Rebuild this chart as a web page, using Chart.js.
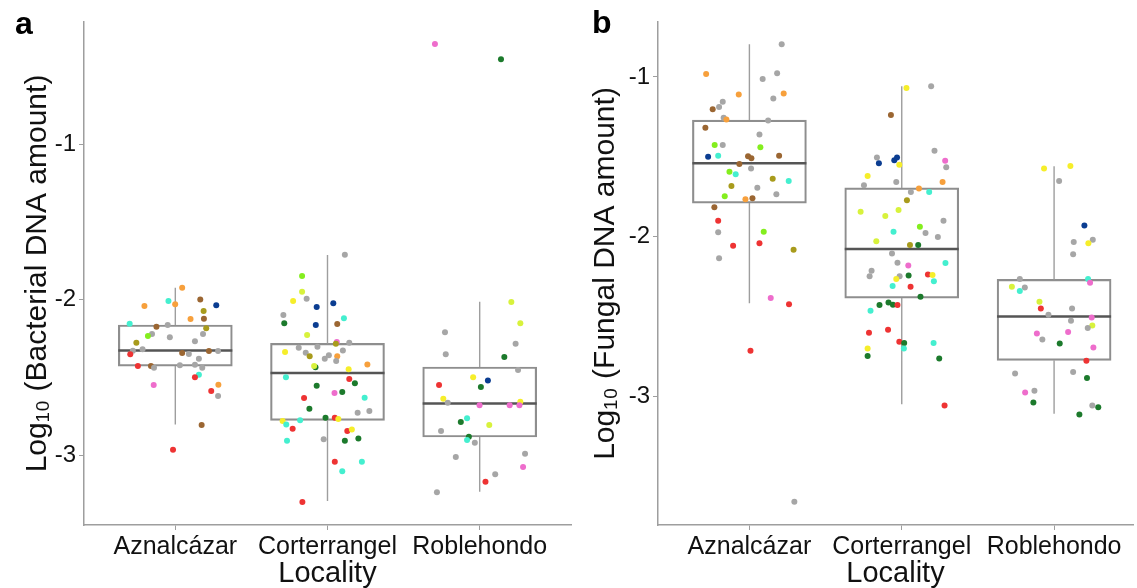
<!DOCTYPE html>
<html>
<head>
<meta charset="utf-8">
<script src="https://cdn.jsdelivr.net/npm/chart.js@4.4.0/dist/chart.umd.min.js"></script>
<style>
  body { margin: 0; background: #fff; width: 1137px; height: 588px; position: relative; overflow: hidden;
         font-family: "Liberation Sans", Arial, sans-serif; }
  canvas { position: absolute; top: 0; }
  #chartA { left: 0; }
  #chartB { left: 575px; }
  .tag { position: absolute; font-weight: bold; font-size: 32px; line-height: 1; color: #000; }
</style>
</head>
<body>
<canvas id="chartA" width="575" height="588"></canvas>
<canvas id="chartB" width="562" height="588"></canvas>
<div class="tag" style="left:15px; top:7px">a</div>
<div class="tag" style="left:592px; top:6px">b</div>
<script>
const localities = ['Aznalcázar', 'Corterrangel', 'Roblehondo'];
const yTicks = [-3, -2, -1];

// box stats, panel a (bacterial)
const bactQ1 = [-2.428, -2.777, -2.884];
const bactMed = [-2.327, -2.473, -2.668];
const bactQ3 = [-2.164, -2.282, -2.434];
const bactLow = [-2.803, -3.296, -3.236];
const bactHigh = [-1.924, -1.714, -2.014];

// box stats, panel b (fungal)
const fungQ1 = [-1.79, -2.385, -2.775];
const fungMed = [-1.54, -2.078, -2.50];
const fungQ3 = [-1.27, -1.695, -2.268];
const fungLow = [-2.417, -3.05, -3.11];
const fungHigh = [-0.796, -1.058, -1.56];

const palette = {
  gray: '#a6a6a6', orange: '#f7a03c', brown: '#9b6632', navy: '#0b3d91',
  olive: '#a89b1c', cyan: '#44efcf', lime: '#84ee1e', ygreen: '#d8f23c',
  yellow: '#f6ee2a', red: '#ee3333', pink: '#ee6dcc', dgreen: '#1c7a2c'
};

// jittered points, panel a: Aznalcázar, Corterrangel, Roblehondo
const bactX = [
  1.045,0.797,0.955,0.999,1.164,1.269,1.186,1.100,1.188,0.700,0.876,0.950,1.203,0.847,0.820,0.964,1.182,1.129,0.744,0.721,0.785,0.704,1.045,1.089,1.221,1.281,1.155,0.754,0.840,0.860,1.030,1.129,1.177,1.155,1.129,0.858,1.283,1.236,1.281,1.173,0.985,
  2.114,1.833,1.833,1.774,1.863,1.929,2.038,1.710,1.716,1.923,2.064,2.108,1.866,2.061,2.055,2.143,1.811,1.934,1.721,1.857,1.883,2.101,1.982,2.009,2.064,2.057,1.921,1.912,2.139,2.262,1.727,2.143,2.180,1.929,2.046,2.097,1.846,2.244,1.881,2.198,2.275,1.987,2.048,2.071,1.705,1.729,1.820,1.771,2.130,2.160,1.975,2.114,2.203,1.734,2.048,2.226,2.097,1.835,
  3.208,3.267,2.772,3.236,2.777,3.162,3.252,2.957,3.054,2.733,3.008,2.761,2.790,3.267,2.999,3.197,3.261,2.917,2.876,3.063,2.746,2.929,2.917,2.968,3.298,2.843,3.285,3.102,3.038,2.719,2.706,3.140
];
const bactY = [
  -1.924,-2.042,-2.010,-2.031,-1.999,-2.037,-2.074,-2.125,-2.123,-2.156,-2.175,-2.164,-2.185,-2.222,-2.235,-2.243,-2.222,-2.269,-2.278,-2.329,-2.320,-2.352,-2.344,-2.350,-2.331,-2.331,-2.381,-2.428,-2.428,-2.439,-2.423,-2.419,-2.439,-2.484,-2.500,-2.550,-2.548,-2.588,-2.621,-2.807,-2.966,
  -1.712,-1.849,-1.950,-2.010,-1.995,-2.048,-2.024,-2.100,-2.153,-2.164,-2.158,-2.121,-2.228,-2.273,-2.284,-2.278,-2.310,-2.304,-2.338,-2.342,-2.365,-2.327,-2.381,-2.359,-2.365,-2.395,-2.436,-2.428,-2.449,-2.417,-2.500,-2.511,-2.539,-2.554,-2.601,-2.595,-2.633,-2.632,-2.702,-2.728,-2.717,-2.760,-2.760,-2.768,-2.781,-2.803,-2.777,-2.831,-2.846,-2.835,-2.899,-2.908,-2.893,-2.908,-3.043,-3.043,-3.105,-3.302,
  -2.016,-2.153,-2.211,-2.284,-2.352,-2.370,-2.453,-2.500,-2.520,-2.550,-2.563,-2.638,-2.664,-2.657,-2.680,-2.680,-2.680,-2.764,-2.788,-2.807,-2.846,-2.882,-2.904,-2.921,-2.992,-3.013,-3.077,-3.124,-3.172,-3.240,-0.357,-0.455
];
const bactCol = [
  'orange','orange','cyan','orange','brown','navy','olive','orange','brown','cyan','brown','gray','olive','gray','lime','gray','gray','gray','olive','gray','gray','red','brown','gray','brown','gray','gray','red','brown','gray','gray','gray','gray','cyan','red','pink','orange','red','gray','brown','red',
  'gray','lime','ygreen','yellow','gray','navy','navy','gray','dgreen','navy','brown','cyan','ygreen','pink','olive','gray','gray','gray','yellow','gray','olive','gray','gray','gray','orange','gray','dgreen','ygreen','yellow','orange','cyan','red','dgreen','dgreen','pink','dgreen','red','cyan','dgreen','gray','gray','dgreen','red','yellow','yellow','cyan','cyan','red','red','yellow','gray','dgreen','dgreen','cyan','red','cyan','cyan','red',
  'ygreen','ygreen','gray','gray','gray','dgreen','gray','yellow','navy','red','dgreen','yellow','gray','yellow','pink','pink','pink','cyan','dgreen','ygreen','gray','dgreen','cyan','gray','gray','gray','pink','gray','red','gray','pink','dgreen'
];

// jittered points, panel b
const fungX = [
  1.212,0.716,1.182,1.087,0.930,1.225,1.157,0.825,0.801,0.759,0.831,0.849,1.123,0.711,1.066,0.772,0.825,1.072,0.729,0.795,0.991,1.013,1.195,0.934,1.011,0.869,0.910,1.153,1.258,0.882,1.052,1.177,0.838,0.974,1.020,0.770,0.795,0.795,1.094,0.893,1.066,1.290,0.801,1.140,1.260,1.007,1.295,
  2.031,2.193,1.929,2.215,1.837,1.850,1.951,1.969,1.984,2.285,2.292,1.776,1.964,1.752,2.268,2.113,2.060,2.180,2.034,1.730,1.892,1.979,2.274,2.119,1.946,2.156,2.237,1.833,2.054,2.108,1.936,1.972,2.043,2.287,1.802,1.789,1.986,2.045,2.172,2.202,1.964,2.211,1.940,2.058,2.123,1.854,1.913,1.942,1.972,1.795,1.785,1.910,1.984,2.016,2.014,2.209,1.776,1.776,2.246,2.281,
  2.934,3.107,3.033,3.199,3.129,3.254,3.225,3.125,2.775,3.223,3.236,2.723,2.808,2.775,2.904,2.913,3.118,2.963,3.247,3.111,3.251,3.221,2.887,3.092,2.923,3.037,3.258,3.212,2.744,3.125,3.216,2.810,2.871,2.864,3.251,3.290,3.166
];
const fungY = [
  -0.796,-0.981,-0.977,-1.013,-1.110,-1.104,-1.135,-1.156,-1.188,-1.202,-1.256,-1.266,-1.273,-1.319,-1.360,-1.427,-1.427,-1.441,-1.500,-1.494,-1.496,-1.510,-1.494,-1.546,-1.573,-1.594,-1.610,-1.638,-1.652,-1.683,-1.694,-1.735,-1.748,-1.766,-1.760,-1.816,-1.900,-1.973,-1.969,-2.058,-2.041,-2.083,-2.135,-2.385,-2.423,-2.714,-3.660,
  -1.069,-1.058,-1.238,-1.463,-1.504,-1.541,-1.521,-1.504,-1.550,-1.525,-1.566,-1.621,-1.658,-1.679,-1.658,-1.698,-1.721,-1.721,-1.773,-1.844,-1.871,-1.833,-1.900,-1.938,-1.969,-1.977,-2.002,-2.029,-2.052,-2.052,-2.106,-2.163,-2.181,-2.166,-2.213,-2.248,-2.248,-2.244,-2.238,-2.241,-2.266,-2.279,-2.310,-2.314,-2.377,-2.429,-2.413,-2.427,-2.429,-2.464,-2.602,-2.583,-2.658,-2.666,-2.700,-2.666,-2.700,-2.748,-2.763,-3.058,
  -1.573,-1.558,-1.652,-1.931,-2.033,-2.019,-2.041,-2.110,-2.266,-2.266,-2.289,-2.314,-2.319,-2.341,-2.408,-2.450,-2.450,-2.489,-2.506,-2.527,-2.556,-2.573,-2.606,-2.598,-2.644,-2.669,-2.694,-2.777,-2.858,-2.848,-2.885,-2.977,-2.966,-3.039,-3.058,-3.069,-3.114
];
const fungCol = [
  'gray','orange','gray','gray','orange','orange','gray','gray','gray','brown','gray','orange','gray','brown','gray','lime','gray','lime','navy','cyan','brown','brown','brown','brown','gray','lime','cyan','olive','cyan','olive','gray','gray','lime','orange','brown','brown','red','gray','lime','red','red','olive','gray','pink','red','red','gray',
  'yellow','gray','brown','gray','gray','navy','navy','navy','yellow','pink','gray','yellow','gray','gray','orange','orange','gray','cyan','olive','ygreen','ygreen','ygreen','gray','lime','cyan','gray','gray','ygreen','olive','dgreen','gray','gray','pink','cyan','gray','gray','gray','dgreen','red','yellow','yellow','cyan','cyan','red','dgreen','dgreen','dgreen','dgreen','red','cyan','red','red','red','dgreen','cyan','cyan','yellow','dgreen','dgreen','red',
  'yellow','yellow','gray','navy','gray','gray','yellow','gray','gray','cyan','pink','ygreen','gray','cyan','ygreen','red','gray','gray','pink','gray','ygreen','gray','pink','pink','gray','dgreen','pink','red','gray','gray','dgreen','pink','gray','dgreen','gray','dgreen','dgreen'
];

const axisGray = '#9e9e9e';

function makePanel(id, cfg) {
  const whisker = [];
  localities.forEach((l, i) => {
    whisker.push({x: i + 1, y: cfg.high[i]}, {x: i + 1, y: cfg.q3[i]}, {x: i + 1, y: null});
    whisker.push({x: i + 1, y: cfg.q1[i]}, {x: i + 1, y: cfg.low[i]}, {x: i + 1, y: null});
  });

  new Chart(document.getElementById(id), {
    type: 'scatter',
    data: {
      datasets: [
        {
          data: cfg.xs.map((x, i) => ({x: x, y: cfg.ys[i]})),
          backgroundColor: cfg.cols.map(c => palette[c]),
          pointRadius: 3,
          borderWidth: 0,
          order: 0
        },
        {
          data: cfg.med.map((m, i) => ({x: i + 1, y: m})),
          pointStyle: 'line',
          pointRadius: 57,
          borderColor: '#555555',
          borderWidth: 2.5,
          order: 1
        },
        {
          data: whisker,
          showLine: true,
          spanGaps: false,
          pointRadius: 0,
          borderColor: axisGray,
          borderWidth: 1.4,
          order: 2
        },
        {
          type: 'bar',
          data: cfg.q1.map((q, i) => ({x: i + 1, y: [q, cfg.q3[i]]})),
          barThickness: 114,
          backgroundColor: 'rgba(255,255,255,0)',
          borderColor: '#8e8e8e',
          borderWidth: 1.5,
          borderSkipped: false,
          order: 3
        }
      ]
    },
    options: {
      responsive: false,
      animation: false,
      devicePixelRatio: 1,
      layout: { autoPadding: false, padding: { top: 22, right: 4, left: 0, bottom: 0 } },
      plugins: { legend: { display: false }, tooltip: { enabled: false } },
      scales: {
        x: {
          type: 'linear',
          min: 0.4,
          max: cfg.xMax,
          offset: false,
          afterBuildTicks: s => { s.ticks = localities.map((l, i) => ({value: i + 1})); },
          afterFit: s => { s.height = 63; },
          ticks: {
            autoSkip: false, maxRotation: 0, padding: 2,
            color: '#111', font: { family: 'Liberation Sans', size: 25 },
            callback: (v, i) => localities[i]
          },
          grid: { offset: false, drawOnChartArea: false, drawTicks: true, tickLength: 5, color: axisGray, lineWidth: 1 },
          border: { color: axisGray, width: 1.5 },
          title: {
            display: true, text: 'Locality', color: '#111',
            font: { family: 'Liberation Sans', size: 29 }, padding: { top: 0, bottom: -3 }
          }
        },
        y: {
          min: cfg.yMin,
          max: cfg.yMax,
          afterBuildTicks: s => { s.ticks = yTicks.map(v => ({value: v})); },
          afterFit: s => { s.width = cfg.yWidth; },
          ticks: {
            padding: 3, color: '#111', font: { family: 'Liberation Sans', size: 24 },
            callback: v => String(v)
          },
          grid: { offset: false, drawOnChartArea: false, drawTicks: true, tickLength: 5, color: axisGray, lineWidth: 1 },
          border: { color: axisGray, width: 1.5 },
          title: {
            display: true, text: cfg.title, color: '#111',
            font: { family: 'Liberation Sans', size: 30 }, padding: { top: cfg.titlePad, bottom: 0 }
          }
        }
      }
    }
  });
}

makePanel('chartA', {
  q1: bactQ1, med: bactMed, q3: bactQ3, low: bactLow, high: bactHigh,
  xs: bactX, ys: bactY, cols: bactCol,
  title: 'Log\u2081\u2080 (Bacterial DNA amount)',
  yMin: -3.45, yMax: -0.215, xMax: 3.6, yWidth: 84, titlePad: 20
});

makePanel('chartB', {
  q1: fungQ1, med: fungMed, q3: fungQ3, low: fungLow, high: fungHigh,
  xs: fungX, ys: fungY, cols: fungCol,
  title: 'Log\u2081\u2080 (Fungal DNA amount)',
  yMin: -3.806, yMax: -0.656, xMax: 3.518, yWidth: 83, titlePad: 13
});
</script>
</body>
</html>
